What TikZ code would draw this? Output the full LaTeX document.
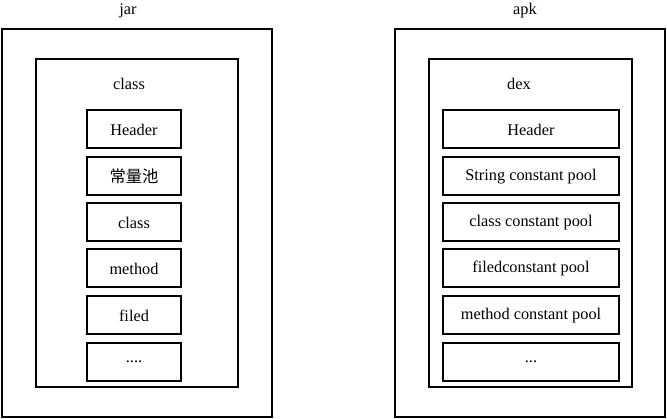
\documentclass[tikz,border=0pt]{standalone}
\usepackage{fontspec}
\setmainfont{Liberation Serif}
\newfontfamily\cjk{Noto Sans CJK SC}

\tikzset{
  outerbox/.style={draw, line width=2.4pt},
  innerbox/.style={draw, line width=2pt},
  field/.style={draw, line width=2pt, minimum height=38pt, inner sep=0pt},
}

\begin{document}
\begin{tikzpicture}[x=1pt, y=-1pt,
  every node/.style={font=\fontsize{16.3}{19}\selectfont}]
  \useasboundingbox (0,0) rectangle (667,419);

  % jar
  \node (jar) at (128,11) {jar};
  \draw[outerbox] (2,29) rectangle (272,417);
  \draw[innerbox] (36,59) rectangle (238,387);
  \node (classtitle) at (129,84) {class};

  \node[field, minimum width=94pt] (jheader) at (134,129.5) {Header};
  \node[field, minimum width=94pt] (jpool)   at (134,176.5) {\cjk 常量池};
  \node[field, minimum width=94pt] (jclass)  at (134,222.5) {class};
  \node[field, minimum width=94pt] (jmethod) at (134,268.5) {method};
  \node[field, minimum width=94pt] (jfiled)  at (134,315.5) {filed};
  \node[field, minimum width=94pt] (jmore)   at (134,362)   {....};

  % apk
  \node (apk) at (525,11) {apk};
  \draw[outerbox] (395,29) rectangle (665,417);
  \draw[innerbox] (429,59) rectangle (632,387);
  \node (dextitle) at (519,84) {dex};

  \node[field, minimum width=176pt] (aheader) at (531,129.5) {Header};
  \node[field, minimum width=176pt] (astring) at (531,176.5) {String constant pool};
  \node[field, minimum width=176pt] (aclass)  at (531,222.5) {class constant pool};
  \node[field, minimum width=176pt] (afiled)  at (531,268.5) {filedconstant pool};
  \node[field, minimum width=176pt] (amethod) at (531,315.5) {method constant pool};
  \node[field, minimum width=176pt] (amore)   at (531,362)   {...};

\end{tikzpicture}
\end{document}
